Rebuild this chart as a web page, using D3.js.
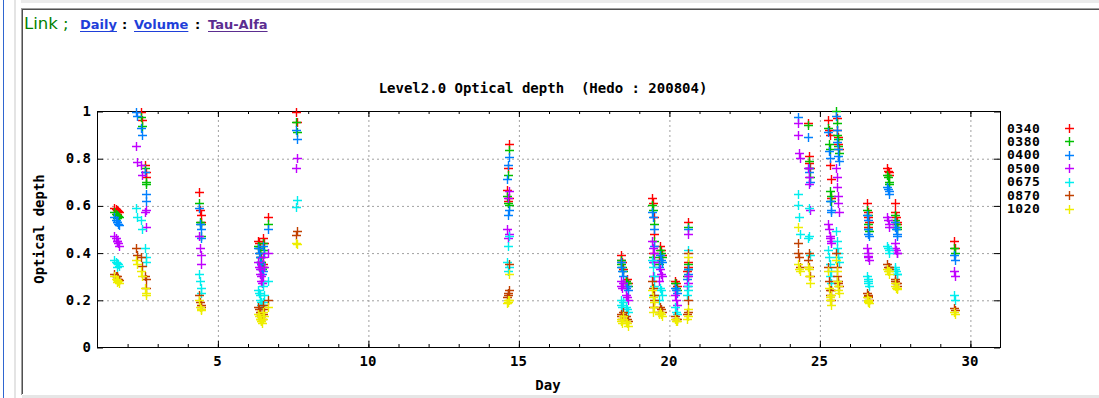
<!DOCTYPE html>
<html>
<head>
<meta charset="utf-8">
<script src="https://cdn.jsdelivr.net/npm/d3@7"></script>
<style>
  body { margin: 0; background: #fff; overflow: hidden; }
  svg { display: block; }
  .gp { font-family: "DejaVu Sans Mono", "Liberation Mono", monospace; font-weight: bold; font-size: 14px; fill: #000; white-space: pre; }
  .leg { font-size: 13px; letter-spacing: 0.5px; }
  .axis path { display: none; }
  .axis line { stroke: #000; }
  .grid line { stroke: #a0a0a0; stroke-dasharray: 2,3; }
  .grid path { display: none; }
</style>
</head>
<body>
<svg id="chart" width="1099" height="398"></svg>
<script>
/* Series names and gnuplot default point colours */
var wavelengths = ["0340", "0380", "0400", "0500", "0675", "0870", "1020"];
var colors = ["#ff0000", "#00c000", "#0080ff", "#c000ff", "#00eeee", "#c04000", "#eeee00"];

var xTicks = [5, 10, 15, 20, 25, 30];
var xMinor = d3.range(2, 31);
var yTicks = [0, 0.2, 0.4, 0.6, 0.8, 1];
var yTickLabels = ["0", "0.2", "0.4", "0.6", "0.8", "1"];

/* Observation time (day of month), one entry per measurement */
var days = [
  1.58, 1.62, 1.66, 1.70, 1.74, 1.68,
  2.30, 2.33, 2.45, 2.48, 2.60, 2.62, 2.64,
  4.40, 4.42, 4.44, 4.46,
  6.35, 6.38, 6.40, 6.42, 6.44, 6.46, 6.48, 6.50, 6.52, 6.55, 6.68,
  7.62, 7.65,
  14.70, 14.65, 14.63, 14.66, 14.68,
  18.40, 18.42, 18.44, 18.46, 18.60, 18.63, 18.58,
  19.45, 19.47, 19.50, 19.52, 19.48, 19.70, 19.73, 19.76, 19.68,
  20.20, 20.23, 20.26, 20.62, 20.65, 20.63, 20.60,
  24.28, 24.30, 24.32, 24.34, 24.62, 24.64, 24.66, 24.68,
  25.30, 25.32, 25.34, 25.36, 25.38, 25.40, 25.55, 25.57, 25.59, 25.61, 25.63, 25.65,
  26.58, 26.60, 26.62, 26.64, 26.61,
  27.25, 27.28, 27.30, 27.32, 27.50, 27.52, 27.55, 27.57, 27.59,
  29.48, 29.50
];

/* Optical depth per wavelength, same order as days (values above 1 fall outside the plot) */
var aod0340 = [
  0.59, 0.585, 0.58, 0.575, 0.57, 0.565,
  1.08, 1.05, 0.995, 0.96, 0.77, 0.72, 0.74,
  0.655, 0.58, 0.56, 0.53,
  0.45, 0.44, 0.42, 0.40, 0.38, 0.36, 0.34, 0.35, 0.46, 0.44, 0.55,
  0.995, 0.955,
  0.86, 0.76, 0.665, 0.62, 0.63,
  0.39, 0.37, 0.36, 0.33, 0.29, 0.27, 0.28,
  0.63, 0.61, 0.55, 0.48, 0.40, 0.43, 0.41, 0.39, 0.37,
  0.28, 0.27, 0.26, 0.53, 0.36, 0.34, 0.32,
  1.10, 1.10, 1.06, 1.05, 0.95, 0.81, 0.78, 0.76,
  0.96, 0.92, 0.90, 0.77, 0.71, 0.63, 1.04, 0.97, 0.92, 0.89, 0.86, 0.84,
  0.61, 0.57, 0.55, 0.53, 0.51,
  0.76, 0.745, 0.74, 0.73, 0.61, 0.57, 0.55, 0.53, 0.52,
  0.45, 0.42
];
var aod0380 = [
  0.57, 0.565, 0.56, 0.555, 0.55, 0.545,
  1.04, 1.02, 0.975, 0.935, 0.76, 0.70, 0.69,
  0.61, 0.53, 0.52, 0.47,
  0.43, 0.42, 0.40, 0.38, 0.36, 0.35, 0.33, 0.34, 0.44, 0.41, 0.52,
  0.955, 0.91,
  0.835, 0.73, 0.64, 0.61, 0.60,
  0.37, 0.35, 0.34, 0.32, 0.27, 0.26, 0.28,
  0.60, 0.58, 0.52, 0.45, 0.38, 0.41, 0.40, 0.38, 0.35,
  0.27, 0.25, 0.24, 0.51, 0.35, 0.33, 0.30,
  1.05, 1.08, 1.03, 1.02, 0.94, 0.79, 0.76, 0.72,
  0.93, 0.86, 0.84, 0.66, 0.64, 0.62, 1.00, 0.95, 0.90, 0.88, 0.85, 0.82,
  0.58, 0.56, 0.52, 0.49, 0.50,
  0.73, 0.72, 0.70, 0.69, 0.56, 0.54, 0.52, 0.51, 0.50,
  0.42, 0.40
];
var aod0400 = [
  0.55, 0.54, 0.53, 0.52, 0.515, 0.53,
  0.995, 0.98, 0.93, 0.90, 0.74, 0.65, 0.62,
  0.59, 0.52, 0.50, 0.46,
  0.42, 0.40, 0.38, 0.36, 0.35, 0.33, 0.31, 0.32, 0.43, 0.40, 0.50,
  0.92, 0.88,
  0.806, 0.77, 0.71, 0.56, 0.58,
  0.36, 0.34, 0.32, 0.30, 0.26, 0.24, 0.25,
  0.57, 0.55, 0.50, 0.43, 0.36, 0.39, 0.37, 0.36, 0.34,
  0.25, 0.24, 0.23, 0.50, 0.33, 0.31, 0.29,
  0.975, 1.04, 1.01, 1.005, 0.89, 0.76, 0.74, 0.70,
  0.91, 0.83, 0.80, 0.62, 0.58, 0.57, 0.98, 0.92, 0.87, 0.84, 0.81, 0.79,
  0.56, 0.54, 0.50, 0.47, 0.48,
  0.68, 0.67, 0.66, 0.65, 0.53, 0.51, 0.50, 0.48, 0.47,
  0.39, 0.37
];
var aod0500 = [
  0.47, 0.46, 0.45, 0.44, 0.43, 0.45,
  0.85, 0.785, 0.77, 0.73, 0.57, 0.51, 0.58,
  0.47, 0.42, 0.39, 0.35,
  0.36, 0.34, 0.33, 0.31, 0.30, 0.28, 0.27, 0.28, 0.38, 0.34, 0.40,
  0.76, 0.80,
  0.66, 0.63, 0.50, 0.46, 0.48,
  0.28, 0.26, 0.25, 0.27, 0.21, 0.20, 0.22,
  0.45, 0.42, 0.40, 0.36, 0.30, 0.33, 0.31, 0.30, 0.28,
  0.22, 0.20, 0.18, 0.48, 0.30, 0.27, 0.26,
  0.95, 0.90, 0.82, 0.80, 0.76, 0.72, 0.69, 0.58,
  0.52, 0.50, 0.47, 0.46, 0.44, 0.45, 0.76, 0.72, 0.68, 0.64, 0.61, 0.57,
  0.42, 0.40, 0.38, 0.37, 0.385,
  0.55, 0.54, 0.52, 0.51, 0.44, 0.42, 0.41, 0.40, 0.40,
  0.32, 0.30
];
var aod0675 = [
  0.37, 0.36, 0.355, 0.35, 0.345, 0.34,
  0.59, 0.55, 0.54, 0.50, 0.42, 0.38, 0.36,
  0.31, 0.28, 0.25, 0.23,
  0.24, 0.23, 0.22, 0.20, 0.19, 0.18, 0.18, 0.19, 0.26, 0.22, 0.28,
  0.595, 0.625,
  0.47, 0.43, 0.36, 0.32, 0.34,
  0.20, 0.18, 0.17, 0.19, 0.16, 0.15, 0.17,
  0.37, 0.34, 0.30, 0.26, 0.22, 0.25, 0.24, 0.22, 0.20,
  0.17, 0.15, 0.14, 0.41, 0.26, 0.24, 0.22,
  0.65, 0.60, 0.55, 0.48, 0.46, 0.59, 0.47, 0.39,
  0.41, 0.38, 0.35, 0.30, 0.27, 0.32, 0.49, 0.45, 0.42, 0.40, 0.38, 0.36,
  0.30, 0.29, 0.27, 0.26, 0.28,
  0.43, 0.42, 0.41, 0.40, 0.34, 0.33, 0.32, 0.31, 0.31,
  0.22, 0.20
];
var aod0870 = [
  0.31, 0.30, 0.30, 0.29, 0.285, 0.29,
  0.42, 0.39, 0.38, 0.345, 0.30, 0.29, 0.25,
  0.22, 0.19, 0.18, 0.17,
  0.17, 0.16, 0.15, 0.14, 0.13, 0.13, 0.12, 0.14, 0.18, 0.16, 0.20,
  0.475, 0.49,
  0.35, 0.23, 0.21, 0.22, 0.24,
  0.14, 0.13, 0.12, 0.15, 0.12, 0.11, 0.13,
  0.28, 0.25, 0.22, 0.20, 0.17, 0.17, 0.16, 0.15, 0.15,
  0.13, 0.12, 0.12, 0.40, 0.20, 0.15, 0.14,
  0.44, 0.40, 0.38, 0.34, 0.37, 0.40, 0.34, 0.30,
  0.34, 0.28, 0.24, 0.22, 0.20, 0.24, 0.40, 0.34, 0.30, 0.28, 0.27, 0.26,
  0.23, 0.22, 0.21, 0.20, 0.215,
  0.35, 0.34, 0.33, 0.34, 0.29, 0.28, 0.27, 0.27, 0.26,
  0.165, 0.155
];
var aod1020 = [
  0.30, 0.29, 0.285, 0.28, 0.27, 0.275,
  0.37, 0.35, 0.32, 0.30, 0.25, 0.23, 0.22,
  0.20, 0.17, 0.16, 0.155,
  0.14, 0.13, 0.12, 0.12, 0.11, 0.11, 0.10, 0.12, 0.15, 0.13, 0.17,
  0.44, 0.435,
  0.31, 0.19, 0.185, 0.20, 0.20,
  0.12, 0.11, 0.10, 0.13, 0.10, 0.09, 0.11,
  0.24, 0.21, 0.19, 0.17, 0.15, 0.15, 0.14, 0.13, 0.14,
  0.12, 0.11, 0.11, 0.38, 0.16, 0.13, 0.12,
  0.51, 0.35, 0.33, 0.32, 0.34, 0.33, 0.30, 0.27,
  0.32, 0.25, 0.21, 0.20, 0.18, 0.22, 0.37, 0.32, 0.28, 0.26, 0.24, 0.23,
  0.21, 0.20, 0.19, 0.185, 0.195,
  0.33, 0.32, 0.32, 0.31, 0.27, 0.26, 0.25, 0.25, 0.245,
  0.15, 0.14
];

var seriesValues = [aod0340, aod0380, aod0400, aod0500, aod0675, aod0870, aod1020];

var svg = d3.select("#chart");

/* ---- page frame around the plot ---- */
svg.append("rect").attr("x", 21).attr("y", 0).attr("width", 1078).attr("height", 3).attr("fill", "#ebebeb");
svg.append("line").attr("x1", 3.5).attr("x2", 3.5).attr("y1", 0).attr("y2", 398).attr("stroke", "#2f66d0");
svg.append("rect").attr("x", 14).attr("y", 0).attr("width", 2).attr("height", 398).attr("fill", "#e4e4e4");
svg.append("line").attr("x1", 21).attr("x2", 1099).attr("y1", 8.5).attr("y2", 8.5).attr("stroke", "#a0a0a0");
svg.append("line").attr("x1", 22).attr("x2", 1099).attr("y1", 9.5).attr("y2", 9.5).attr("stroke", "#505050");
svg.append("line").attr("x1", 21.5).attr("x2", 21.5).attr("y1", 8).attr("y2", 395).attr("stroke", "#a0a0a0");
svg.append("line").attr("x1", 22.5).attr("x2", 22.5).attr("y1", 9).attr("y2", 394).attr("stroke", "#505050");
svg.append("rect").attr("x", 22).attr("y", 395).attr("width", 1077).attr("height", 3).attr("fill", "#e6e6e6");

/* ---- link bar ---- */
var head = svg.append("g").style("font-family", "'DejaVu Sans', Verdana, sans-serif");
head.append("text").attr("x", 24).attr("y", 29).style("font-size", "16.5px").attr("fill", "#008000").text("Link ;");
var links = [
  {t: "Daily", x: 80, c: "#1f3fd9"},
  {t: ":", x: 122, c: "#000", plain: true},
  {t: "Volume", x: 134, c: "#1f3fd9"},
  {t: ":", x: 195, c: "#000", plain: true},
  {t: "Tau-Alfa", x: 208, c: "#5b2d90"}
];
links.forEach(function(l) {
  var t = head.append("text").attr("x", l.x).attr("y", 29)
    .style("font-size", "13px").style("font-weight", "bold")
    .attr("fill", l.c).text(l.t);
  if (!l.plain) {
    var w = t.node().getComputedTextLength();
    head.append("line").attr("x1", l.x).attr("x2", l.x + w)
      .attr("y1", 31.5).attr("y2", 31.5).attr("stroke", l.c);
  }
});

/* ---- plot ---- */
var pLeft = 97, pRight = 1000, pTop = 111, pBottom = 347;
var x = d3.scaleLinear().domain([1, 31]).range([pLeft, pRight]);
var y = d3.scaleLinear().domain([0, 1]).range([pBottom, pTop]);

// dotted grid
svg.append("g").attr("class", "grid")
  .attr("transform", "translate(0.5," + pBottom + ")")
  .call(d3.axisBottom(x).tickValues(xTicks)
    .tickSize(-(pBottom - pTop)).tickFormat(""));
svg.append("g").attr("class", "grid")
  .attr("transform", "translate(" + pLeft + ",0.5)")
  .call(d3.axisLeft(y).tickValues([0.2, 0.4, 0.6, 0.8])
    .tickSize(-(pRight - pLeft)).tickFormat(""));

// ticks, mirrored on all four sides
function place(g, tx, ty) { g.attr("transform", "translate(" + tx + "," + ty + ")"); }
svg.append("g").attr("class", "axis").call(place, 0.5, pBottom)
  .call(d3.axisBottom(x).tickValues(xMinor).tickSize(-3).tickFormat(""));
svg.append("g").attr("class", "axis").call(place, 0.5, pTop)
  .call(d3.axisTop(x).tickValues(xMinor).tickSize(-3).tickFormat(""));
svg.append("g").attr("class", "axis").call(place, 0.5, pBottom)
  .call(d3.axisBottom(x).tickValues(xTicks).tickSize(-6).tickFormat(""));
svg.append("g").attr("class", "axis").call(place, 0.5, pTop)
  .call(d3.axisTop(x).tickValues(xTicks).tickSize(-6).tickFormat(""));
svg.append("g").attr("class", "axis").call(place, pLeft, 0.5)
  .call(d3.axisLeft(y).tickValues(yTicks).tickSize(-6).tickFormat(""));
svg.append("g").attr("class", "axis").call(place, pRight, 0.5)
  .call(d3.axisRight(y).tickValues(yTicks).tickSize(-6).tickFormat(""));

// tick labels
svg.selectAll(".xlab").data(xTicks).enter().append("text")
  .attr("class", "gp xlab").attr("text-anchor", "middle")
  .attr("x", function(d) { return x(d); }).attr("y", 366)
  .text(function(d) { return d; });
svg.selectAll(".ylab").data(yTicks).enter().append("text")
  .attr("class", "gp ylab").attr("text-anchor", "end")
  .attr("x", 91).attr("y", function(d) { return y(d) + 5; })
  .text(function(d, i) { return yTickLabels[i]; });

// border
svg.append("rect").attr("x", pLeft + 0.5).attr("y", pTop + 0.5)
  .attr("width", pRight - pLeft).attr("height", pBottom - pTop)
  .attr("fill", "none").attr("stroke", "#000");

// titles
svg.append("text").attr("class", "gp").attr("text-anchor", "middle")
  .attr("x", 543).attr("y", 93).text("Level2.0 Optical depth  (Hedo : 200804)");
svg.append("text").attr("class", "gp").attr("text-anchor", "middle")
  .attr("transform", "translate(44,229) rotate(-90)").text("Optical depth");
svg.append("text").attr("class", "gp").attr("text-anchor", "middle")
  .attr("x", 548).attr("y", 390).text("Day");

// data points as '+' marks
var plus = "M-4.5,0H4.5M0,-4.5V4.5";
seriesValues.forEach(function(vals, si) {
  var pts = days.map(function(d, i) { return {d: d, v: vals[i]}; })
    .filter(function(p) { return p.v >= 0 && p.v <= 1; });
  svg.append("g").selectAll("path").data(pts).enter().append("path")
    .attr("d", plus)
    .attr("transform", function(p) {
      return "translate(" + (Math.round(x(p.d)) + 0.5) + "," + (Math.round(y(p.v)) + 0.5) + ")";
    })
    .attr("fill", "none").attr("stroke", colors[si]).attr("stroke-width", 1.4);
});

// legend
var leg = svg.append("g");
wavelengths.forEach(function(w, i) {
  var ly = 128 + i * 13.45;
  leg.append("text").attr("class", "gp leg").attr("x", 1007).attr("y", ly + 4.5).text(w);
  leg.append("path").attr("d", plus)
    .attr("transform", "translate(" + 1069.5 + "," + (Math.round(ly) + 0.5) + ")")
    .attr("fill", "none").attr("stroke", colors[i]).attr("stroke-width", 1.4);
});
</script>
</body>
</html>
